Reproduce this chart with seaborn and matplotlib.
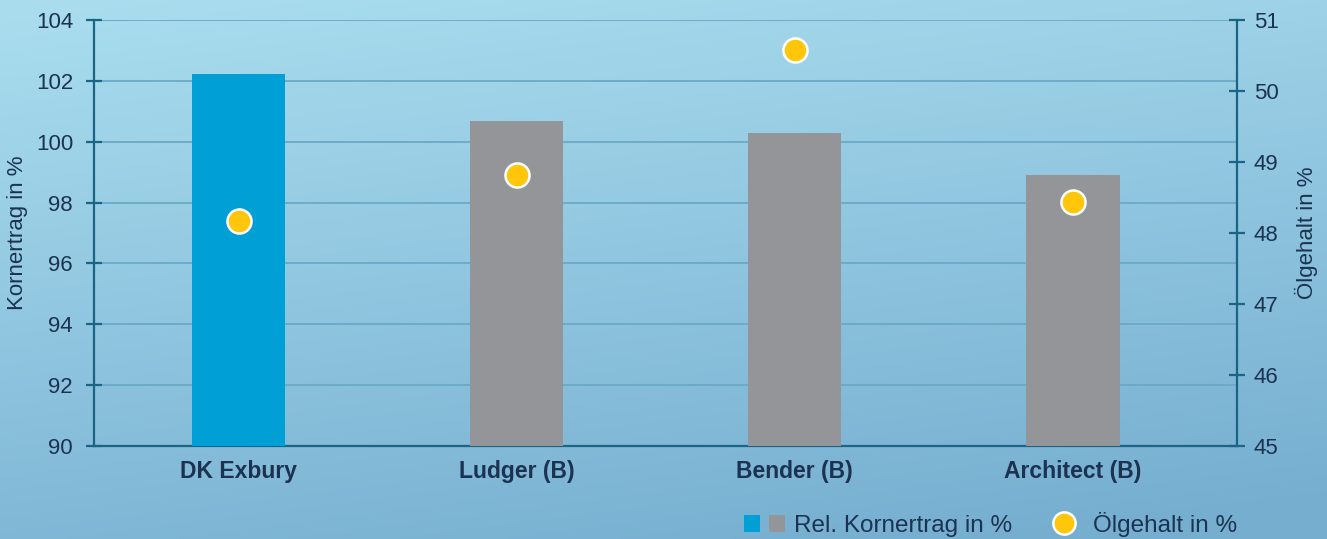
import matplotlib
matplotlib.use("Agg")

import numpy as np
import pandas as pd
import matplotlib.pyplot as plt
import seaborn as sns
from matplotlib.patches import Patch
from matplotlib.lines import Line2D
from matplotlib.legend_handler import HandlerTuple

# data
sorten = ["DK Exbury", "Ludger (B)", "Bender (B)", "Architect (B)"]
kornertrag = [102.22, 100.68, 100.29, 98.91]
oelgehalt = [48.17, 48.82, 50.58, 48.44]
bar_colors = ["#009FD6", "#939598", "#939598", "#939598"]

df = pd.DataFrame({"sorte": sorten, "ertrag": kornertrag, "oel": oelgehalt})

navy = "#1B3350"
axis_col = "#1A6585"
grid_col = "#6AA9C6"

sns.set_theme(style="white")
plt.rcParams["font.family"] = ["Liberation Sans", "DejaVu Sans"]

fig = plt.figure(figsize=(13.27, 5.39), dpi=100)

# background gradient
bg = fig.add_axes([0, 0, 1, 1], zorder=-10)
h, w = 200, 400
yy, xx = np.mgrid[0:1:h * 1j, 0:1:w * 1j]
t = np.clip(0.8 * yy + 0.25 * xx, 0, 1)
top = np.array([170, 222, 239]) / 255
bot = np.array([118, 174, 208]) / 255
img = top[None, None, :] * (1 - t[..., None]) + bot[None, None, :] * t[..., None]
bg.imshow(img, aspect="auto", extent=[0, 1, 0, 1], origin="upper")
bg.axis("off")

ax = fig.add_axes([0.0708, 0.1725, 0.8614, 0.7904])
ax.set_facecolor("none")

sns.barplot(data=df, x="sorte", y="ertrag", hue="sorte", palette=bar_colors,
            width=0.335, legend=False, saturation=1, linewidth=0,
            ax=ax, zorder=3)
ax.set_ylim(90, 104)
ax.set_yticks(np.arange(90, 105, 2))
ax.set_xlim(-0.52, 3.59)
ax.yaxis.grid(True, color=grid_col, linewidth=1.3, zorder=0)
ax.set_axisbelow(True)

ax2 = ax.twinx()
sns.scatterplot(data=df, x="sorte", y="oel", s=300, color="#FFC60B",
                edgecolor="white", linewidth=1.8, zorder=5, ax=ax2, legend=False)
ax2.set_ylim(45, 51)
ax2.set_yticks(np.arange(45, 52, 1))
ax2.set_xlim(-0.52, 3.59)

for a in (ax, ax2):
    for s in a.spines.values():
        s.set_visible(False)
    a.tick_params(axis="y", direction="inout", length=12, width=1.6,
                  color=axis_col, labelsize=16, labelcolor=navy, pad=6)
    a.set_xlabel("")

ax.tick_params(axis="y", pad=9)
ax.spines["left"].set_visible(True)
ax.spines["left"].set_color(axis_col)
ax.spines["left"].set_linewidth(1.6)
ax.spines["bottom"].set_visible(True)
ax.spines["bottom"].set_color(axis_col)
ax.spines["bottom"].set_linewidth(1.6)
ax2.spines["right"].set_visible(True)
ax2.spines["right"].set_color(axis_col)
ax2.spines["right"].set_linewidth(1.6)

ax.tick_params(axis="x", length=0, labelsize=16.5, labelcolor=navy, pad=10)
for lbl in ax.get_xticklabels():
    lbl.set_fontweight("bold")

ax.set_ylabel("Kornertrag in %", fontsize=16, color=navy, labelpad=6)
ax2.set_ylabel("Ölgehalt in %", fontsize=16, color=navy, labelpad=12)

# legend
blue_p = Patch(facecolor="#009FD6", edgecolor="none")
gray_p = Patch(facecolor="#939598", edgecolor="none")
dot = Line2D([], [], marker="o", linestyle="", markersize=16,
             markerfacecolor="#FFC60B", markeredgecolor="white", markeredgewidth=1.8)
fig.legend([(blue_p, gray_p), dot], ["Rel. Kornertrag in %", "Ölgehalt in %"],
           handler_map={tuple: HandlerTuple(ndivide=None, pad=0.35)},
           loc="center right", bbox_to_anchor=(0.949, 0.027), ncol=2,
           frameon=False, fontsize=17.5, labelcolor=navy,
           handlelength=1.7, handleheight=0.75, handletextpad=0.35, columnspacing=1.3)

fig.savefig("out.png", dpi=100)
plt.close(fig)
